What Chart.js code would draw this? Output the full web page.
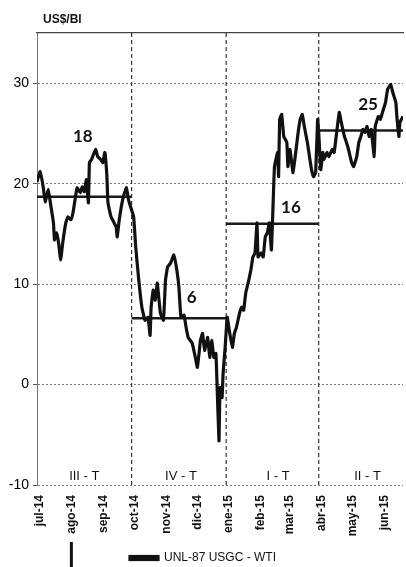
<!DOCTYPE html>
<html>
<head>
<meta charset="utf-8">
<script src="https://cdn.jsdelivr.net/npm/chart.js@4/dist/chart.umd.min.js"></script>
<style>
  html, body { margin: 0; padding: 0; background: #fff; }
  #wrap { width: 406px; height: 567px; }
</style>
</head>
<body>
<div id="wrap"><canvas id="c" width="406" height="567"></canvas></div>
<script>
// days counted from 1 jul 2014
const days = [0,3,6,8,11,13,16,17,19,21,23,25,28,30,33,35,37,39,42,44,46,48,50,51,53,57,59,62,64,66,68,69,72,75,77,78,80,82,84,87,89,91,
  94,96,99,102,105,108,110,111,113,115,117,120,123,125,127,130,133,136,138,140,143,145,147,151,154,156,159,161,163,166,168,170,172,174,175,177,178,180,181,183,
  185,187,190,192,194,197,199,201,203,206,208,210,212,214,215,218,220,222,224,226,228,230,231,234,235,236,238,240,243,244,246,247,249,252,254,256,258,260,263,265,267,269,271,273,
  274,276,278,279,282,284,287,289,291,294,296,299,301,303,306,308,311,313,315,317,319,321,323,325,328,329,332,334,336,339,341,344,346,349,350,352,353,356];
const spread = [20.2,21.2,19.7,18.2,19.4,18.1,16.1,14.4,15.1,14.1,12.4,14.1,16.1,16.7,16.4,17.1,18.4,19.6,19.1,19.7,19.2,20.4,18.1,22.1,22.4,23.4,22.7,22.4,22.1,23.1,20.7,18.1,16.7,16.1,15.7,14.7,16.4,17.7,18.7,19.6,18.4,17.7,
  16.7,13.7,10.4,7.7,6.4,6.7,4.9,7.7,9.4,8.4,10.1,7.1,6.4,10.4,11.7,12.1,12.9,11.4,9.7,6.7,6.9,5.7,4.7,4.1,2.7,1.7,4.4,5.1,3.4,4.7,2.7,4.4,2.7,3.1,0.4,-5.6,-0.3,-1.3,1.1,3.7,
  6.7,5.4,3.7,5.1,5.7,7.1,7.7,7.4,9.1,10.4,11.4,12.7,13.1,16.1,12.7,13.1,12.7,14.7,15.1,16.1,13.4,19.1,21.7,23.1,20.7,26.4,26.9,24.7,24.1,21.7,23.4,22.7,21.1,23.4,25.1,26.4,26.9,25.7,24.1,22.7,21.4,20.7,21.1,26.4,
  25.1,21.4,23.1,22.4,23.1,22.7,23.4,23.1,24.7,27.1,26.1,24.7,24.1,23.4,22.1,21.7,22.7,24.1,24.7,25.4,25.1,25.7,24.7,25.4,22.7,25.7,26.7,26.4,27.1,28.1,29.4,29.9,29.1,28.1,26.7,24.7,26.1,26.7];

const monthStart = [0,31,62,92,123,153,184,215,243,274,304,335];
const monthLabels = ['jul-14','ago-14','sep-14','oct-14','nov-14','dic-14','ene-15','feb-15','mar-15','abr-15','may-15','jun-15'];
const yTicks = [-10,0,10,20,30];

const quarterStart = [0,92,184,274];
const quarterEnd = [92,184,274,356];
const quarterAvg = [18.7,6.6,16.0,25.3];
const quarterNames = ['III - T','IV - T','I - T','II - T'];
const avgLabels = ['18','6','16','25'];
const seriesName = 'UNL-87 USGC - WTI';

const dayMax = 356;

const datasets = [{
  label: seriesName,
  data: days.map((d, i) => ({ x: d, y: spread[i] })),
  borderColor: '#111',
  borderWidth: 3.2,
  pointRadius: 0,
  tension: 0.1
}];
// quarter averages
quarterAvg.forEach((v, i) => {
  datasets.push({
    label: 'avg' + i,
    data: [{ x: quarterStart[i], y: v }, { x: quarterEnd[i], y: v }],
    borderColor: '#1a1a1a',
    borderWidth: 2.5,
    pointRadius: 0
  });
});
// dashed quarter separators
quarterStart.slice(1).forEach((d, i) => {
  datasets.push({
    label: 'sep' + i,
    data: [{ x: d, y: -10 }, { x: d, y: 35 }],
    borderColor: '#333',
    borderWidth: 1.2,
    borderDash: [4, 3],
    pointRadius: 0
  });
});

// text placed in data units
const textPlugin = {
  id: 'texts',
  afterDatasetsDraw(chart) {
    const { ctx, scales: { x, y } } = chart;
    ctx.save();
    ctx.fillStyle = '#111';
    ctx.textAlign = 'center';
    ctx.textBaseline = 'middle';
    const qx = [46, 140, 234.5, 321.5];
    ctx.font = '13px "Liberation Sans", Arial, sans-serif';
    quarterNames.forEach((t, i) => ctx.fillText(t, x.getPixelForValue(qx[i]), y.getPixelForValue(-9.1)));
    const ax = [44.5, 150.5, 247, 322];
    const ay = [24.7, 8.7, 17.6, 27.9];
    ctx.font = 'bold 17px Lato, "Open Sans", sans-serif';
    avgLabels.forEach((t, i) => ctx.fillText(t, x.getPixelForValue(ax[i]), y.getPixelForValue(ay[i])));
    // unit title
    ctx.textAlign = 'left';
    ctx.font = 'bold 12px "Liberation Sans", Arial, sans-serif';
    ctx.fillText('US$/Bl', 43, 20);
    // stray mark under the axis labels (scan artefact)
    ctx.fillRect(x.getPixelForValue(monthStart[1]) + 1, 542, 3, 25);
    ctx.restore();
  }
};

new Chart(document.getElementById('c'), {
  type: 'line',
  data: { datasets },
  options: {
    responsive: false,
    animation: false,
    devicePixelRatio: 1,
    layout: { padding: { top: 25, left: 0, right: 0, bottom: -7 } },
    plugins: {
      legend: {
        position: 'bottom',
        labels: {
          filter: item => item.datasetIndex === 0,
          boxWidth: 28,
          boxHeight: 3,
          padding: 1,
          color: '#111',
          font: { family: '"Liberation Sans", Arial, sans-serif', size: 12 }
        }
      },
      tooltip: { enabled: false }
    },
    scales: {
      x: {
        type: 'linear',
        min: 0,
        max: dayMax,
        afterBuildTicks: s => { s.ticks = monthStart.map(v => ({ value: v })); },
        afterFit: s => { s.height = 66; },
        grid: { display: false, drawTicks: false, tickLength: 0 },
        border: { display: false },
        ticks: {
          autoSkip: false,
          minRotation: 90,
          maxRotation: 90,
          padding: 10,
          labelOffset: 3,
          color: '#111',
          font: { family: '"Liberation Sans", Arial, sans-serif', size: 12, weight: 'bold' },
          callback: v => monthLabels[monthStart.indexOf(v)]
        }
      },
      top: {
        type: 'linear',
        position: 'top',
        min: 0,
        max: dayMax,
        grid: { display: false },
        ticks: { display: false },
        border: { display: true, color: '#444', width: 1.3 }
      },
      y: {
        min: -10,
        max: 35,
        afterBuildTicks: s => { s.ticks = yTicks.map(v => ({ value: v })); },
        afterFit: s => { s.width = 37; },
        grid: { color: '#7a7a7a', lineWidth: 1, tickLength: 4, tickColor: '#555', tickBorderDash: [] },
        border: { display: true, color: '#777', dash: [2, 2] },
        ticks: {
          padding: 4,
          color: '#000',
          font: { family: '"Liberation Sans", Arial, sans-serif', size: 14 }
        }
      }
    }
  },
  plugins: [textPlugin]
});
</script>
</body>
</html>
